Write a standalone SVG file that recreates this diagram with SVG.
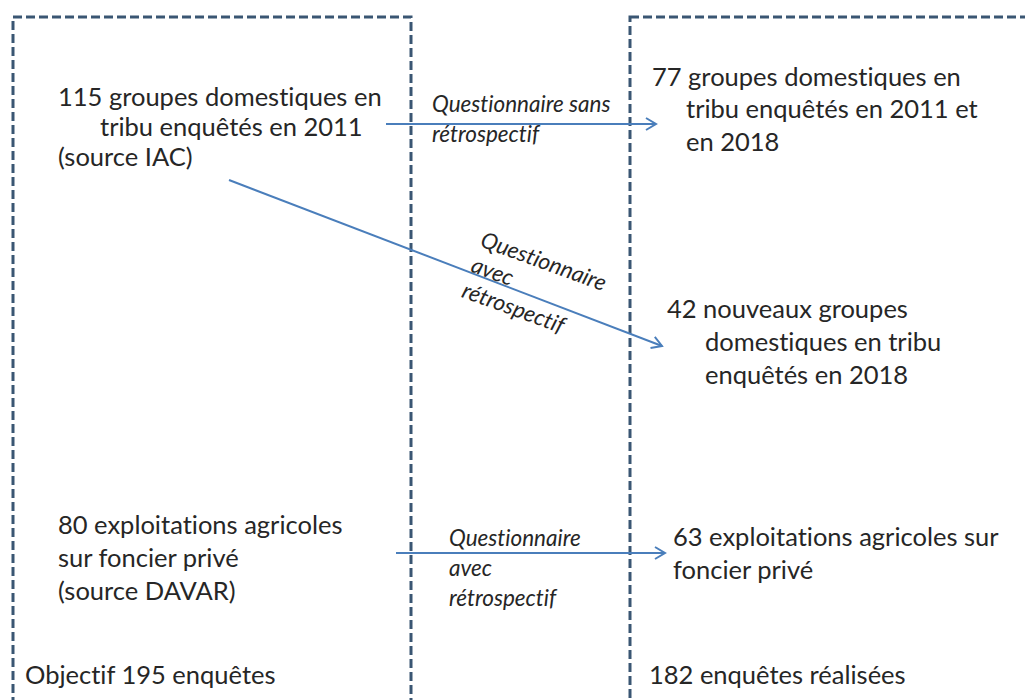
<svg xmlns="http://www.w3.org/2000/svg" width="1025" height="700" viewBox="0 0 1025 700">
  <style>
    .box { fill: none; stroke: #3a5673; stroke-width: 3; stroke-dasharray: 9 4; }
    text { font-variant-ligatures: none; font-feature-settings: "liga" 0, "dlig" 0, "clig" 0; }
    .t { font-family: Lato, "Liberation Sans", sans-serif; font-size: 25.5px; fill: #262626; }
    .lbl { font-family: Lato, "Liberation Sans", sans-serif; font-size: 22.5px; font-style: italic; fill: #262626; }
    .conn { stroke: #4a7ebb; stroke-width: 2; fill: none; marker-end: url(#arr); }
  </style>
  <defs>
    <marker id="arr" markerUnits="userSpaceOnUse" markerWidth="14" markerHeight="14" refX="12" refY="7" orient="auto" viewBox="0 0 14 14">
      <path d="M2,1 L12,7 L2,13" fill="none" stroke="#4a7ebb" stroke-width="2"/>
    </marker>
  </defs>
  <rect width="1025" height="700" fill="#ffffff"/>

  <g id="box-left">
    <rect class="box" x="13" y="17" width="398" height="720"/>
  </g>
  <g id="box-right">
    <rect class="box" x="630" y="17" width="420" height="720"/>
  </g>

  <g id="connectors">
    <line class="conn" x1="386" y1="124" x2="656" y2="124"/>
    <line class="conn" x1="229" y1="180" x2="662" y2="346"/>
    <line class="conn" x1="396" y1="553" x2="665" y2="553"/>
  </g>

  <g id="labels">
    <text class="lbl" x="432" y="112">Questionnaire sans</text>
    <text class="lbl" x="432" y="142">rétrospectif</text>
    <g transform="translate(479,246) rotate(20)">
      <text class="lbl" x="0" y="0">Questionnaire</text>
      <text class="lbl" x="0" y="27">avec</text>
      <text class="lbl" x="0" y="54">rétrospectif</text>
    </g>
    <text class="lbl" x="449" y="546">Questionnaire</text>
    <text class="lbl" x="449" y="576">avec</text>
    <text class="lbl" x="449" y="606">rétrospectif</text>
  </g>

  <g id="node-115">
    <text class="t" x="58" y="106">115 groupes domestiques en</text>
    <text class="t" x="100" y="136">tribu enquêtés en 2011</text>
    <text class="t" x="58" y="166">(source IAC)</text>
  </g>
  <g id="node-77">
    <text class="t" x="652" y="86">77 groupes domestiques en</text>
    <text class="t" x="686" y="118">tribu enquêtés en 2011 et</text>
    <text class="t" x="686" y="151">en 2018</text>
  </g>
  <g id="node-42">
    <text class="t" x="667" y="318">42 nouveaux groupes</text>
    <text class="t" x="705" y="351">domestiques en tribu</text>
    <text class="t" x="705" y="384">enquêtés en 2018</text>
  </g>
  <g id="node-80">
    <text class="t" x="58" y="534">80 exploitations agricoles</text>
    <text class="t" x="58" y="567">sur foncier privé</text>
    <text class="t" x="58" y="600">(source DAVAR)</text>
  </g>
  <g id="node-63">
    <text class="t" x="673" y="546">63 exploitations agricoles sur</text>
    <text class="t" x="673" y="579">foncier privé</text>
  </g>
  <g id="node-objectif">
    <text class="t" x="25" y="684">Objectif 195 enquêtes</text>
  </g>
  <g id="node-182">
    <text class="t" x="649" y="684">182 enquêtes réalisées</text>
  </g>
</svg>
